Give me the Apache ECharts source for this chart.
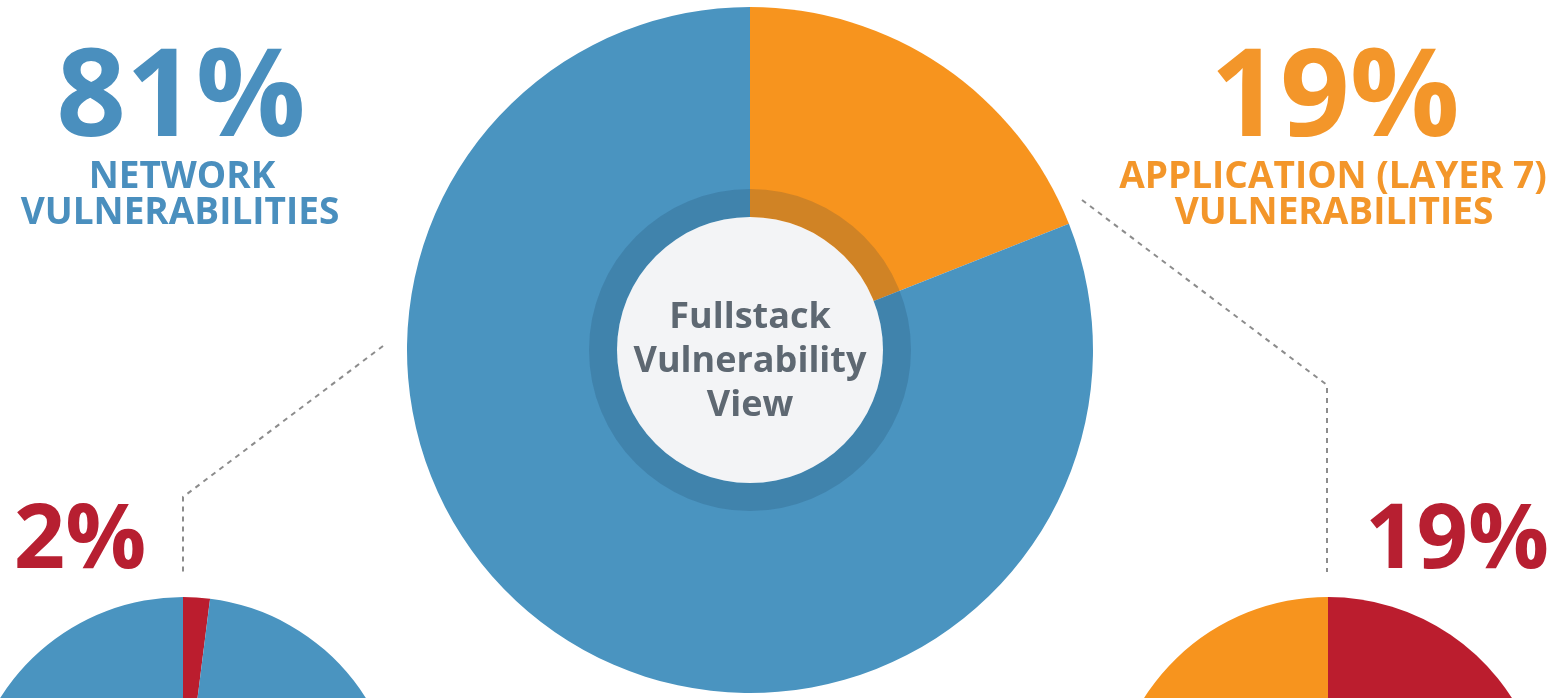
<!DOCTYPE html>
<html>
<head>
<meta charset="utf-8">
<title>Fullstack Vulnerability View</title>
<script src="https://cdn.jsdelivr.net/npm/echarts@6/dist/echarts.min.js"></script>
<style>
  html, body { margin: 0; padding: 0; background: #ffffff; }
  #chart { width: 1563px; height: 698px; }
</style>
</head>
<body>
<div id="chart"></div>
<script>
// Overall split of vulnerabilities (clockwise from 12 o'clock)
const mainCategories = ['Application (Layer 7)', 'Network'];
const mainValues = [19, 81];

// Breakdown inside network vulnerabilities
const networkCategories = ['Critical', 'Other'];
const networkValues = [2, 98];

// Breakdown inside application vulnerabilities
const appCategories = ['Critical', 'Other'];
const appValues = [19, 81];

// Headline labels
const headlineLeft = ['81%', 'NETWORK', 'VULNERABILITIES'];
const headlineRight = ['19%', 'APPLICATION (LAYER 7)', 'VULNERABILITIES'];
const subLeft = '2%';
const subRight = '19%';
const centerLabel = 'Fullstack\nVulnerability\nView';

const BLUE = '#4a94c0';
const ORANGE = '#f7941e';
const RED = '#bb1d2e';
const FONT = '"Open Sans", "Noto Sans", sans-serif';

// Layout
const mainC = [750, 350], mainR = 343;
const leftC = [183, 813], leftR = 216;
const rightC = [1328, 815], rightR = 218;

const chart = echarts.init(document.getElementById('chart'), null, { renderer: 'canvas' });

const pieBase = {
  type: 'pie',
  startAngle: 90,
  clockwise: true,
  silent: true,
  label: { show: false },
  labelLine: { show: false },
  emphasis: { disabled: true },
  itemStyle: { borderWidth: 0 }
};

function toData(names, values, colors) {
  return names.map((n, i) => ({ name: n, value: values[i], itemStyle: { color: colors[i] } }));
}

function text(x, y, str, size, color, weight) {
  return {
    type: 'text',
    silent: true,
    style: {
      x, y, text: str,
      fill: color,
      font: (weight || 'bold') + ' ' + size + 'px ' + FONT,
      align: 'center',
      verticalAlign: 'middle'
    }
  };
}

function dashed(points) {
  return {
    type: 'polyline',
    silent: true,
    shape: { points },
    style: { stroke: '#8c8c8c', lineWidth: 2, lineDash: [5, 5], fill: null }
  };
}

const option = {
  backgroundColor: '#ffffff',
  animation: false,
  series: [
    Object.assign({}, pieBase, {
      name: 'Vulnerabilities',
      center: mainC,
      radius: [0, mainR],
      data: toData(mainCategories, mainValues, [ORANGE, BLUE])
    }),
    // darker translucent ring around the hub
    Object.assign({}, pieBase, {
      name: 'ring',
      center: mainC,
      radius: [133, 161],
      z: 3,
      data: [{ value: 1, itemStyle: { color: 'rgba(20, 45, 75, 0.17)' } }]
    }),
    // light hub with the caption
    Object.assign({}, pieBase, {
      name: 'hub',
      center: mainC,
      radius: [0, 133],
      z: 4,
      label: {
        show: true,
        position: 'center',
        formatter: centerLabel,
        fontFamily: FONT,
        fontWeight: 'bold',
        fontSize: 36,
        lineHeight: 44,
        offset: [0, 12],
        color: '#5e6872'
      },
      data: [{ value: 1, itemStyle: { color: '#f3f4f6' } }]
    }),
    Object.assign({}, pieBase, {
      name: 'Network',
      center: leftC,
      radius: [0, leftR],
      data: toData(networkCategories, networkValues, [RED, BLUE])
    }),
    Object.assign({}, pieBase, {
      name: 'Application',
      center: rightC,
      radius: [0, rightR],
      data: toData(appCategories, appValues, [RED, ORANGE])
    })
  ],
  graphic: [
    text(181, 101, headlineLeft[0], 122, '#4a8fbe'),
    text(182, 177, headlineLeft[1], 37, '#4a8fbe'),
    text(180, 213, headlineLeft[2], 37, '#4a8fbe'),
    text(1335, 101, headlineRight[0], 122, '#f3962a'),
    text(1333, 177, headlineRight[1], 37, '#f3962a'),
    text(1334, 213, headlineRight[2], 37, '#f3962a'),
    text(80, 542, subLeft, 90, '#b71f31'),
    text(1457, 542, subRight, 90, '#b71f31'),
    dashed([[383, 346], [183, 497], [183, 573]]),
    dashed([[1082, 200], [1327, 385], [1327, 572]])
  ]
};

chart.setOption(option);
</script>
</body>
</html>
